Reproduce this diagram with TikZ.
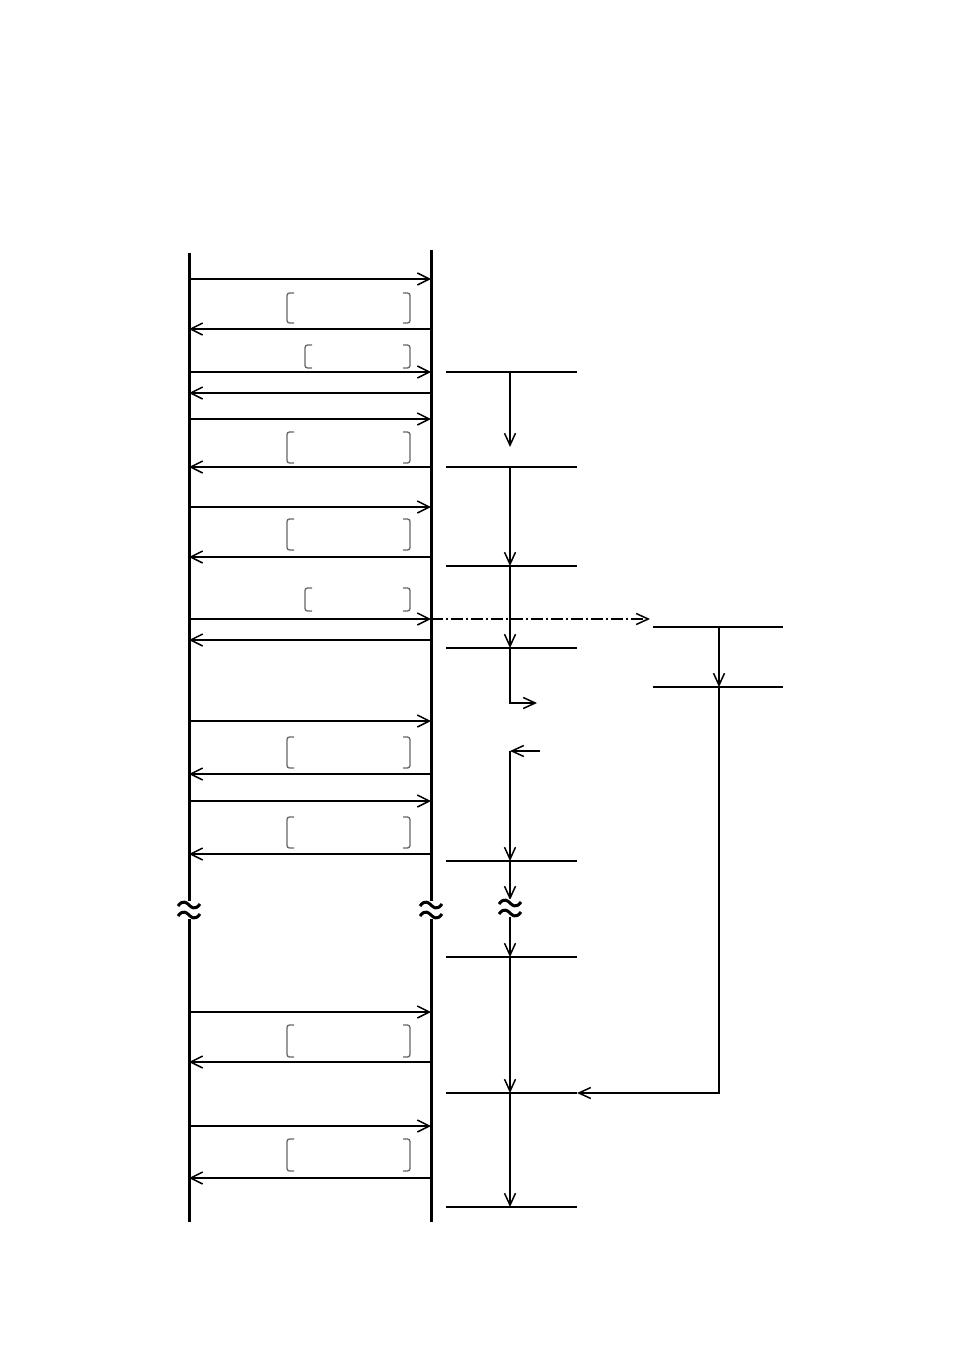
\documentclass[tikz,border=0pt]{standalone}
\usetikzlibrary{arrows.meta}

\tikzset{
  lifeline/.style={line width=3pt},
  msg/.style={line width=1.7pt,-{Straight Barb[length=12pt,width=12pt,line width=1.5pt]}},
  flow/.style={line width=1.6pt,-{Straight Barb[length=12pt,width=11pt,line width=1.5pt]}},
  tickline/.style={line width=1.5pt},
  bracket/.style={line width=1.3pt,draw=black!60,rounded corners=2.5pt},
  breakmark/.style={line width=3pt},
}

% a pair of waves that cuts a vertical line
\newcommand{\waves}[2]{%
  \fill[white] (#1-12,-#2+9) rectangle (#1+12,-#2-9);
  \foreach \dy in {-5,5}
    \draw[breakmark] (#1-11,-#2-\dy-1) .. controls (#1-6,-#2-\dy+6) and (#1-2,-#2-\dy+2) .. (#1,-#2-\dy)
                     .. controls (#1+2,-#2-\dy-2) and (#1+6,-#2-\dy-6) .. (#1+11,-#2-\dy+1);
}

\begin{document}
\begin{tikzpicture}[x=1pt,y=1pt]
  \useasboundingbox (0,0) rectangle (954,-1351);

  % lifelines
  \coordinate (ltop) at (189,-253);
  \coordinate (lbot) at (189,-1222);
  \coordinate (rtop) at (431,-250);
  \coordinate (rbot) at (431,-1222);
  \draw[lifeline] (ltop) -- (lbot);
  \draw[lifeline] (rtop) -- (rbot);

  % messages to the right
  \foreach \y [count=\i] in {279,372,419,507,619,721,801,1012,1126} {
    \coordinate (ra\i) at (189,-\y);
    \coordinate (rb\i) at (431,-\y);
    \draw[msg] (ra\i) -- (rb\i);
  }
  % messages to the left
  \foreach \y [count=\i] in {329,393,467,557,640,774,854,1062,1178} {
    \coordinate (la\i) at (431,-\y);
    \coordinate (lb\i) at (189,-\y);
    \draw[msg] (la\i) -- (lb\i);
  }

  % brackets
  \foreach \t/\b/\xl in {293/323/287,345/368/305,432/463/287,519/550/287,588/611/305,
                         737/768/287,817/848/287,1025/1057/287,1139/1171/287} {
    \draw[bracket] (\xl+7,-\t) -| (\xl,-\b) -- (\xl+7,-\b);
    \draw[bracket] (403,-\t) -| (410,-\b) -- (403,-\b);
  }

  % time marks
  \foreach \y [count=\i] in {372,467,566,648,861,957,1093,1207} {
    \coordinate (ta\i) at (446,-\y);
    \coordinate (tb\i) at (577,-\y);
    \coordinate (tm\i) at (510,-\y);
    \draw[tickline] (ta\i) -- (tb\i);
  }
  \draw[line width=2.3pt] (ta2) -- (tb2);

  \coordinate (c1) at (510,-447);
  \coordinate (c2) at (510,-703);
  \coordinate (c3) at (537,-703);
  \coordinate (c4) at (540,-751);
  \coordinate (c5) at (510,-751);
  \coordinate (c6) at (510,-900);
  \coordinate (c7) at (510,-916);
  \draw[flow] (tm1) -- (c1);
  \draw[flow] (tm2) -- (tm3);
  \draw[flow] (tm3) -- (tm4);
  \draw[flow] (tm4) -- (c2) -- (c3);
  \draw[flow] (c4) -- (c5);
  \draw[flow] (c5) -- (tm5);
  \draw[flow] (tm5) -- (c6);
  \draw[flow] (c7) -- (tm6);
  \draw[flow] (tm6) -- (tm7);
  \draw[flow] (tm7) -- (tm8);

  % second branch
  \coordinate (d0) at (650,-619);
  \draw[flow,dash pattern=on 12pt off 3pt on 2pt off 3pt] (rb5) -- (d0);
  \coordinate (ea) at (653,-627);
  \coordinate (eb) at (783,-627);
  \coordinate (fa) at (653,-687);
  \coordinate (fb) at (783,-687);
  \coordinate (em) at (719,-627);
  \coordinate (fm) at (719,-687);
  \coordinate (g1) at (719,-1093);
  \draw[tickline] (ea) -- (eb);
  \draw[line width=2.3pt] (fa) -- (fb);
  \draw[flow] (em) -- (fm);
  \draw[flow] (fm) -- (g1) -- (tb7);

  % breaks
  \waves{189}{910}
  \waves{431}{910}
  \waves{510}{908}
\end{tikzpicture}
\end{document}
